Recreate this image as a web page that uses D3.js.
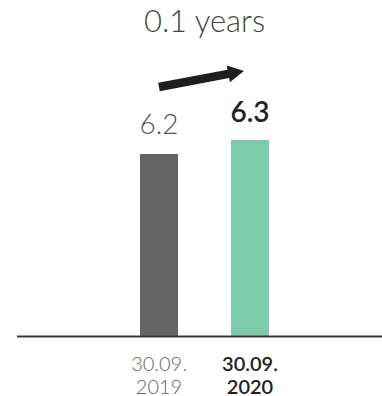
<!DOCTYPE html>
<html>
<head>
<meta charset="utf-8">
<script src="https://cdn.jsdelivr.net/npm/d3@7/dist/d3.min.js"></script>
<style>
  html, body { margin: 0; padding: 0; background: #fff; }
  svg { display: block; font-family: Lato, "Open Sans", sans-serif; }
</style>
</head>
<body>
<svg id="chart" width="382" height="396"></svg>
<script>
// Average remaining lease term, two reporting dates
const categories = ["30.09.2019", "30.09.2020"];
const dateLines = [["30.09.", "2019"], ["30.09.", "2020"]];
const values = [6.2, 6.3];
const valueLabels = ["6.2", "6.3"];
const changeLabel = "0.1 years";

const barColors = ["#646464", "#7ecba9"];
const emphasis = [false, true];

const svg = d3.select("#chart");
const baseY = 336;

const x = d3.scaleBand()
  .domain(categories)
  .range([113.5, 295.5])
  .paddingInner(0.5824)
  .paddingOuter(0.2912);

const y = d3.scaleLinear()
  .domain([4.9, 6.3])
  .range([baseY, 140]);

// bars
svg.selectAll("rect.bar")
  .data(values)
  .join("rect")
  .attr("class", "bar")
  .attr("x", (d, i) => x(categories[i]))
  .attr("width", x.bandwidth())
  .attr("y", d => y(d))
  .attr("height", d => baseY - y(d))
  .attr("fill", (d, i) => barColors[i]);

// baseline axis
svg.append("line")
  .attr("x1", 17).attr("x2", 382)
  .attr("y1", baseY + 0.5).attr("y2", baseY + 0.5)
  .attr("stroke", "#3a3a3a")
  .attr("stroke-width", 2);

// value labels
svg.selectAll("text.value")
  .data(values)
  .join("text")
  .attr("class", "value")
  .attr("x", (d, i) => x(categories[i]) + x.bandwidth() / 2)
  .attr("y", (d, i) => y(d) - (emphasis[i] ? 18 : 20))
  .attr("text-anchor", "middle")
  .attr("font-size", 28)
  .attr("font-weight", (d, i) => emphasis[i] ? 600 : 300)
  .attr("fill", (d, i) => emphasis[i] ? "#222" : "#555")
  .text((d, i) => valueLabels[i]);

// date labels
const dateGroups = svg.selectAll("text.date")
  .data(dateLines)
  .join("text")
  .attr("class", "date")
  .attr("text-anchor", "middle")
  .attr("font-size", 20)
  .attr("font-weight", (d, i) => emphasis[i] ? 600 : 300)
  .attr("fill", (d, i) => emphasis[i] ? "#222" : "#666");

dateGroups.each(function(lines, i) {
  const cx = x(categories[i]) + x.bandwidth() / 2;
  d3.select(this).selectAll("tspan")
    .data(lines)
    .join("tspan")
    .attr("x", cx)
    .attr("y", (d, j) => 371 + j * 23)
    .text(d => d);
});

// change arrow from the first bar towards the second
const ax0 = x(categories[0]) + x.bandwidth() / 2;
const ax1 = x(categories[1]) + x.bandwidth() / 2;
const p0 = [ax0, 87];
const p1 = [ax1 - 6, 71];
const dx = p1[0] - p0[0], dy = p1[1] - p0[1];
const len = Math.hypot(dx, dy);
const ux = dx / len, uy = dy / len;
const nx = -uy, ny = ux;
const shaftW = 4.2, headW = 8.5, headL = 16;
const hb = [p1[0] - ux * headL, p1[1] - uy * headL];
const pts = [
  [p0[0] + nx * shaftW, p0[1] + ny * shaftW],
  [hb[0] + nx * shaftW, hb[1] + ny * shaftW],
  [hb[0] + nx * headW, hb[1] + ny * headW],
  p1,
  [hb[0] - nx * headW, hb[1] - ny * headW],
  [hb[0] - nx * shaftW, hb[1] - ny * shaftW],
  [p0[0] - nx * shaftW, p0[1] - ny * shaftW]
];
svg.append("path")
  .attr("d", d3.line()(pts) + "Z")
  .attr("fill", "#1e1e1e");

// change label
svg.append("text")
  .attr("x", 204.5)
  .attr("y", 32)
  .attr("text-anchor", "middle")
  .attr("font-size", 31)
  .attr("font-weight", 300)
  .attr("fill", "#444")
  .text(changeLabel);
</script>
</body>
</html>
